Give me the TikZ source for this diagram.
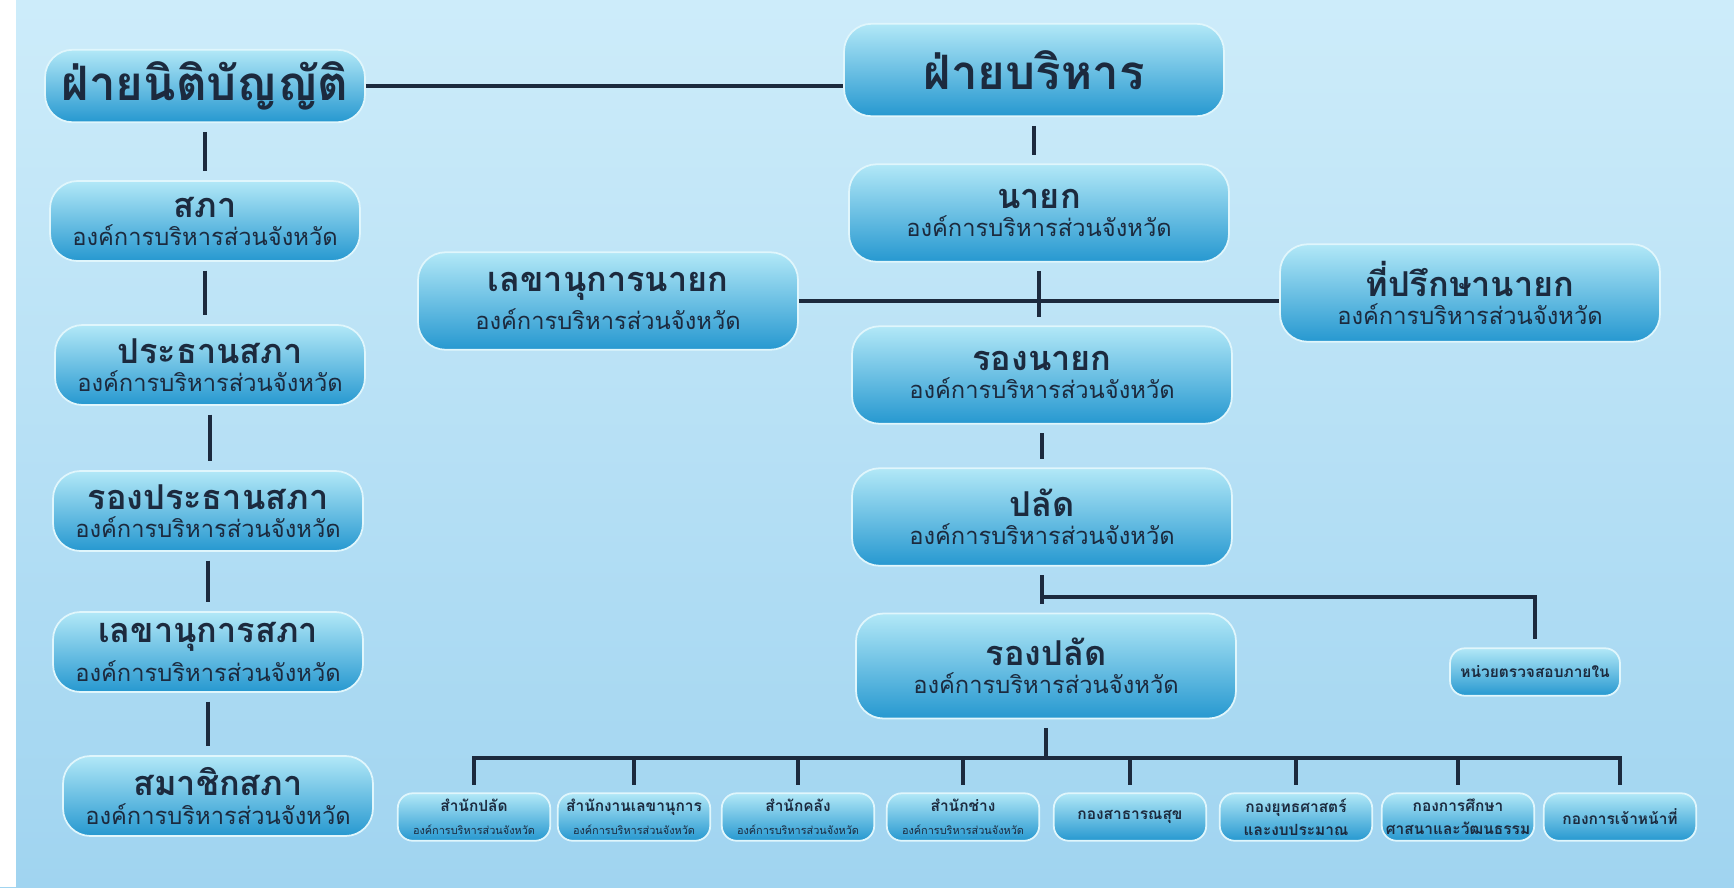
\documentclass[tikz,border=0pt]{standalone}
\usepackage{fontspec}
\newfontfamily\thaifont[Script=Thai]{Loma}
\usetikzlibrary{positioning}

\definecolor{ink}{RGB}{28,42,62}
\definecolor{boxtop}{RGB}{178,232,247}
\definecolor{boxbot}{RGB}{38,152,208}
\definecolor{bgtop}{RGB}{205,236,250}
\definecolor{bgbot}{RGB}{160,212,240}

\newcommand{\bigtitle}[1]{{\fontsize{27}{30}\selectfont\bfseries #1}}
\newcommand{\boxtitle}[1]{{\fontsize{19.5}{22}\selectfont\bfseries #1}}
\newcommand{\boxsub}[1]{{\fontsize{13.5}{16}\selectfont #1}}
\newcommand{\smalltitle}[1]{{\fontsize{8.8}{10}\selectfont\bfseries #1}}
\newcommand{\smallsub}[1]{{\fontsize{6.2}{7.5}\selectfont #1}}

\tikzset{
  orgbox/.style={rounded corners=0.55cm, top color=boxtop, bottom color=boxbot,
    draw=white!60!boxtop, line width=1pt, text=ink, align=center,
    font=\thaifont, inner sep=0pt},
  bigbox/.style={orgbox, minimum width=6.3cm, minimum height=1.65cm},
  midbox/.style={orgbox, minimum width=7.6cm, minimum height=1.95cm},
  leftbox/.style={orgbox, minimum width=6.2cm, minimum height=1.6cm},
  divbox/.style={orgbox, rounded corners=0.3cm, minimum width=3.05cm, minimum height=0.95cm},
  link/.style={draw=ink, line width=2.6pt},
  vlink/.style={link, shorten <=5pt, shorten >=5pt}
}

\begin{document}
\begin{tikzpicture}[x=0.02cm, y=-0.02cm]
    % Background
    \useasboundingbox (0,0) rectangle (1734,887);
    \shade[top color=bgtop, bottom color=bgbot] (0,0) rectangle (1734,887);
    \fill[white] (0,0) rectangle (16,887);

    % Legislative side
    \node[bigbox, minimum width=6.4cm, minimum height=1.45cm] (leg) at (205,86) {\bigtitle{ฝ่ายนิติบัญญัติ}};
    \node[leftbox] (sapha) at (205,221) {\boxtitle{สภา}\\[4pt]\boxsub{องค์การบริหารส่วนจังหวัด}};
    \node[leftbox] (prathan) at (210,365) {\boxtitle{ประธานสภา}\\[4pt]\boxsub{องค์การบริหารส่วนจังหวัด}};
    \node[leftbox] (rongprathan) at (208,511) {\boxtitle{รองประธานสภา}\\[4pt]\boxsub{องค์การบริหารส่วนจังหวัด}};
    \node[leftbox] (lekhasapha) at (208,652) {\boxtitle{เลขานุการสภา}\\[4pt]\boxsub{องค์การบริหารส่วนจังหวัด}};
    \node[leftbox] (samachik) at (218,796) {\boxtitle{สมาชิกสภา}\\[4pt]\boxsub{องค์การบริหารส่วนจังหวัด}};

    \draw[vlink] (leg.south) -- (leg.south |- sapha.north);
    \draw[vlink] (sapha.south) -- (sapha.south |- prathan.north);
    \draw[vlink] (prathan.south) -- (prathan.south |- rongprathan.north);
    \draw[vlink] (rongprathan.south) -- (rongprathan.south |- lekhasapha.north);
    \draw[vlink] (lekhasapha.south) -- (lekhasapha.south |- samachik.north);

    % Executive side
    \node[midbox, minimum height=1.85cm] (exec) at (1034,70) {\bigtitle{ฝ่ายบริหาร}};
    \node[midbox] (nayok) at (1039,213) {\boxtitle{นายก}\\[4pt]\boxsub{องค์การบริหารส่วนจังหวัด}};
    \node[midbox] (lekhanayok) at (608,301) {\boxtitle{เลขานุการนายก}\\[4pt]\boxsub{องค์การบริหารส่วนจังหวัด}};
    \node[midbox] (thiprueksa) at (1470,293) {\boxtitle{ที่ปรึกษานายก}\\[4pt]\boxsub{องค์การบริหารส่วนจังหวัด}};
    \node[midbox] (rongnayok) at (1042,375) {\boxtitle{รองนายก}\\[4pt]\boxsub{องค์การบริหารส่วนจังหวัด}};
    \node[midbox] (palad) at (1042,517) {\boxtitle{ปลัด}\\[4pt]\boxsub{องค์การบริหารส่วนจังหวัด}};
    \node[midbox, minimum height=2.1cm] (rongpalad) at (1046,666) {\boxtitle{รองปลัด}\\[4pt]\boxsub{องค์การบริหารส่วนจังหวัด}};
    \node[divbox, minimum width=3.4cm] (audit) at (1535,672) {\smalltitle{หน่วยตรวจสอบภายใน}};

    \draw[link] (leg.east) -- (leg.east -| exec.west);
    \draw[vlink] (exec.south) -- (exec.south |- nayok.north);
    \draw[vlink] (nayok.south) -- (nayok.south |- rongnayok.north);
    \draw[link] (lekhanayok.east) -- (lekhanayok.east -| thiprueksa.west);
    \draw[vlink] (rongnayok.south) -- (rongnayok.south |- palad.north);

    \coordinate (branch) at (1042,597);
    \draw[vlink] (palad.south) -- (palad.south |- rongpalad.north);
    \draw[link, shorten >=5pt] (branch) -| (audit.north);

    % Divisions
    \coordinate (bus) at (1046,758);
    \foreach \x/\txt [count=\i] in {
        474/{\smalltitle{สำนักปลัด}\\[1pt]\smallsub{องค์การบริหารส่วนจังหวัด}},
        634/{\smalltitle{สำนักงานเลขานุการ}\\[1pt]\smallsub{องค์การบริหารส่วนจังหวัด}},
        798/{\smalltitle{สำนักคลัง}\\[1pt]\smallsub{องค์การบริหารส่วนจังหวัด}},
        963/{\smalltitle{สำนักช่าง}\\[1pt]\smallsub{องค์การบริหารส่วนจังหวัด}},
        1130/{\smalltitle{กองสาธารณสุข}},
        1296/{\smalltitle{กองยุทธศาสตร์}\\[1pt]\smalltitle{และงบประมาณ}},
        1458/{\smalltitle{กองการศึกษา}\\[1pt]\smalltitle{ศาสนาและวัฒนธรรม}},
        1620/{\smalltitle{กองการเจ้าหน้าที่}}} {
        \node[divbox] (div\i) at (\x,817) {\txt};
        \draw[link, shorten >=4pt] (div\i.north |- bus) -- (div\i.north);
    }
    \draw[link, shorten <=5pt] (rongpalad.south) -- (bus);
    \draw[link, line cap=rect] (div1.north |- bus) -- (div8.north |- bus);
\end{tikzpicture}
\end{document}
